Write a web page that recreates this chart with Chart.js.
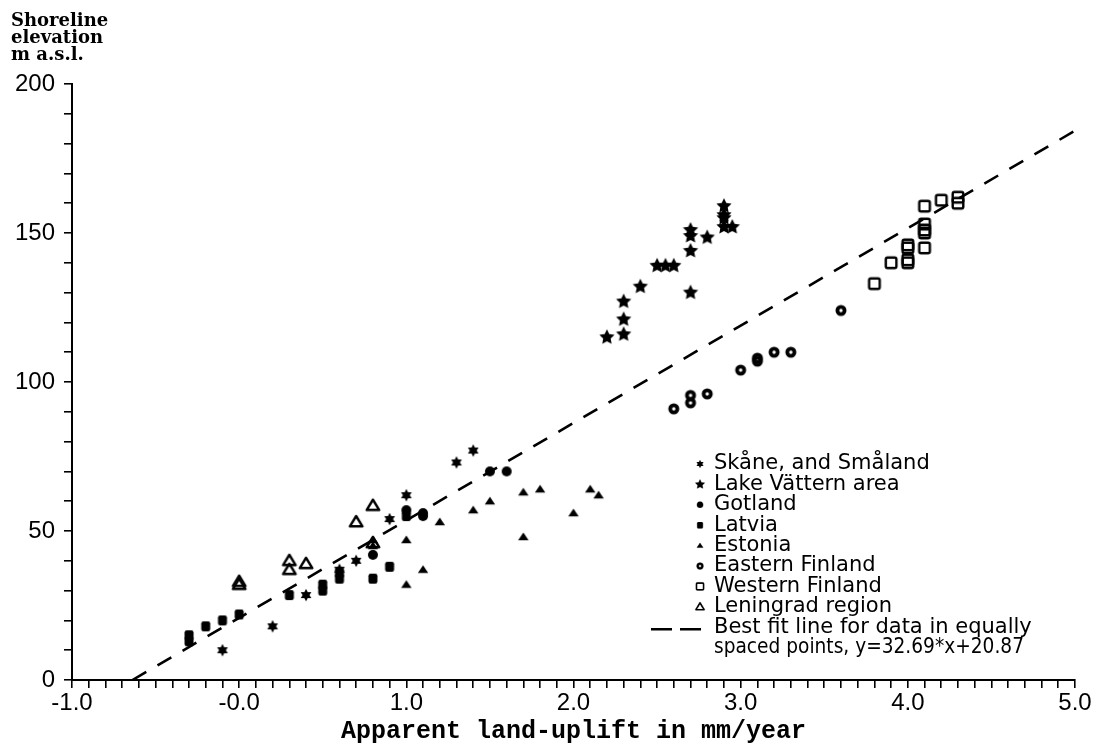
<!DOCTYPE html>
<html>
<head>
<meta charset="utf-8">
<script src="https://cdn.jsdelivr.net/npm/chart.js@4/dist/chart.umd.min.js"></script>
<style>
html,body{margin:0;padding:0;background:#fff;}
#wrap{width:1099px;height:747px;position:relative;}
</style>
</head>
<body>
<div id="wrap"><canvas id="c" width="1099" height="747"></canvas></div>
<script>
// ---- Data ----
const skaneX = [-0.1, 0.2, 0.4, 0.6, 0.7, 0.9, 1.0, 1.3, 1.4];
const skaneY = [10, 18, 28.5, 37, 40, 54, 62, 73, 77];

const vatternX = [2.2, 2.3, 2.3, 2.3, 2.4, 2.5, 2.55, 2.6, 2.7, 2.7, 2.7, 2.7, 2.8, 2.9, 2.9, 2.9, 2.9, 2.95];
const vatternY = [115, 116, 121, 127, 132, 139, 139, 139, 130, 144, 149, 151, 148.5, 159, 156, 155, 152, 152];

const gotlandX = [0.8, 1.0, 1.1, 1.1, 1.5, 1.6];
const gotlandY = [42, 57, 56, 55, 70, 70];

const latviaX = [-0.3, -0.3, -0.2, -0.1, 0.0, 0.3, 0.5, 0.5, 0.6, 0.6, 0.8, 0.9, 1.0];
const latviaY = [15, 13, 18, 20, 22, 28.5, 30, 32, 34, 36, 34, 38, 55];

const estoniaX = [0.8, 0.8, 1.0, 1.0, 1.1, 1.2, 1.4, 1.5, 1.7, 1.7, 1.8, 2.0, 2.1, 2.15];
const estoniaY = [47, 45, 47, 32, 37, 53, 57, 60, 63, 48, 64, 56, 64, 62];

const eastFinX = [2.6, 2.7, 2.7, 2.8, 3.0, 3.1, 3.1, 3.2, 3.3, 3.6];
const eastFinY = [91, 95.5, 93, 96, 104, 108, 107, 110, 110, 124];

const westFinX = [3.8, 3.9, 4.0, 4.0, 4.0, 4.0, 4.1, 4.1, 4.1, 4.1, 4.1, 4.2, 4.3, 4.3];
const westFinY = [133, 140, 146, 145, 141, 140, 145, 153, 151, 150, 159, 161, 162, 160];

const leningradX = [0.0, 0.0, 0.3, 0.3, 0.4, 0.7, 0.8, 0.8];
const leningradY = [33, 32, 40, 37, 39, 53, 58.5, 46];

// Best-fit line as printed in the legend: y = 32.69*x + 20.87
const fitSlope = 32.69;
const fitIntercept = 20.87;
const fitX = [-fitIntercept / fitSlope, 5.0];

const seriesLabels = [
  "Skåne, and Småland", "Lake Vättern area", "Gotland", "Latvia", "Estonia",
  "Eastern Finland", "Western Finland", "Leningrad region"
];
const fitLabel = ["Best fit line for data in equally", "spaced points, y=32.69*x+20.87"];

const xTickLabels = ["-1.0", "-0.0", "1.0", "2.0", "3.0", "4.0", "5.0"];
const yTickLabels = ["0", "50", "100", "150", "200"];
const yTitleLines = ["Shoreline", "elevation", "m a.s.l."];
const xTitle = "Apparent land-uplift in mm/year";

// ---- Marker images ----
function mk(size, draw) {
  const c = document.createElement('canvas');
  c.width = size; c.height = size;
  const g = c.getContext('2d');
  g.fillStyle = '#000'; g.strokeStyle = '#000';
  draw(g, size / 2);
  return c;
}
function starPath(g, cx, n, R, r, rot) {
  g.beginPath();
  for (let i = 0; i < 2 * n; i++) {
    const a = rot + i * Math.PI / n;
    const rad = i % 2 === 0 ? R : r;
    const px = cx + rad * Math.cos(a), py = cx + rad * Math.sin(a);
    if (i === 0) g.moveTo(px, py); else g.lineTo(px, py);
  }
  g.closePath();
}
const mSkane = mk(16, (g, c) => { starPath(g, c, 6, 6.2, 3.4, -Math.PI / 2); g.fill(); });
const mVattern = mk(20, (g, c) => { starPath(g, c, 5, 8, 3.9, -Math.PI / 2); g.fill(); });
const mGotland = mk(14, (g, c) => { g.beginPath(); g.arc(c, c, 5, 0, 2 * Math.PI); g.fill(); });
const mLatvia = mk(14, (g, c) => { g.beginPath(); g.roundRect(c - 4.5, c - 5, 9, 10, 2.2); g.fill(); });
const mEstonia = mk(14, (g, c) => { g.beginPath(); g.moveTo(c, c - 4.5); g.lineTo(c + 5.2, c + 3.3); g.lineTo(c - 5.2, c + 3.3); g.closePath(); g.fill(); });
const mEast = mk(16, (g, c) => { g.lineWidth = 3.8; g.beginPath(); g.arc(c, c, 3.6, 0, 2 * Math.PI); g.stroke(); });
const mWest = mk(18, (g, c) => { g.lineWidth = 2.4; g.beginPath(); g.roundRect(c - 5.3, c - 5.3, 10.6, 10.6, 1.8); g.stroke(); });
const mLenin = mk(18, (g, c) => { g.lineWidth = 2.4; g.lineJoin = 'round'; g.beginPath(); g.moveTo(c, c - 6); g.lineTo(c + 6.3, c + 4.3); g.lineTo(c - 6.3, c + 4.3); g.closePath(); g.stroke(); });

const markers = [mSkane, mVattern, mGotland, mLatvia, mEstonia, mEast, mWest, mLenin];
const xsAll = [skaneX, vatternX, gotlandX, latviaX, estoniaX, eastFinX, westFinX, leningradX];
const ysAll = [skaneY, vatternY, gotlandY, latviaY, estoniaY, eastFinY, westFinY, leningradY];

const datasets = xsAll.map((xs, i) => ({
  type: 'scatter',
  label: seriesLabels[i],
  data: xs.map((x, j) => ({ x: x, y: ysAll[i][j] })),
  pointStyle: markers[i],
  pointRadius: 5,
  showLine: false
}));
datasets.push({
  type: 'line',
  label: fitLabel.join(' '),
  data: fitX.map(x => ({ x: x, y: fitSlope * x + fitIntercept })),
  borderColor: '#000',
  borderWidth: 2.6,
  borderDash: [16, 13],
  pointRadius: 0,
  fill: false,
  tension: 0
});

// draw text squeezed horizontally to a target width (if given)
function fitText(ctx, text, x, y, targetW) {
  const w = ctx.measureText(text).width;
  if (!targetW || w <= targetW) { ctx.fillText(text, x, y); return; }
  ctx.save();
  ctx.translate(x, y);
  ctx.scale(targetW / w, 1);
  ctx.fillText(text, 0, 0);
  ctx.restore();
}

// ---- Custom legend and y-title ----
const decor = {
  id: 'decor',
  afterDraw(chart) {
    const ctx = chart.ctx;
    ctx.save();
    ctx.fillStyle = '#000';
    // y-axis title (horizontal, top-left)
    ctx.font = 'bold 18px "DejaVu Serif"';
    ctx.textBaseline = 'alphabetic';
    ctx.textAlign = 'left';
    const base = [26, 43, 60];
    yTitleLines.forEach((t, i) => fitText(ctx, t, 11, base[i], 99));
    // legend
    const symX = 700, txtX = 714, y0 = 464, dy = 20.4;
    ctx.font = '21px "DejaVu Sans"';
    ctx.textBaseline = 'middle';
    seriesLabels.forEach((lab, i) => {
      const y = y0 + i * dy;
      const m = markers[i];
      const s = m.width * 0.66;
      ctx.drawImage(m, symX - s / 2, y - s / 2, s, s);
      fitText(ctx, lab, txtX, y, 225);
    });
    const yf = y0 + 8 * dy;
    fitText(ctx, fitLabel[0], txtX, yf, 320);
    fitText(ctx, fitLabel[1], txtX, yf + dy, 310);
    ctx.strokeStyle = '#000';
    ctx.lineWidth = 2.4;
    ctx.beginPath();
    ctx.moveTo(651, yf + 2); ctx.lineTo(672, yf + 2);
    ctx.moveTo(680, yf + 2); ctx.lineTo(701, yf + 2);
    ctx.stroke();
    ctx.restore();
  }
};

new Chart(document.getElementById('c'), {
  type: 'scatter',
  data: { datasets: datasets },
  options: {
    responsive: false,
    animation: false,
    devicePixelRatio: 1,
    layout: { padding: { left: 0, top: 84, right: 24, bottom: 0 } },
    plugins: { legend: { display: false }, tooltip: { enabled: false } },
    scales: {
      x: {
        type: 'linear',
        min: -1, max: 5,
        afterFit(s) { s.height = 67; },
        border: { display: true, color: '#000', width: 2 },
        grid: { drawOnChartArea: false, drawTicks: true, tickLength: 8, color: '#000', lineWidth: 1.6 },
        ticks: {
          stepSize: 0.1,
          autoSkip: false,
          maxRotation: 0,
          padding: 1,
          color: '#000',
          font: { family: 'Liberation Sans', size: 24 },
          callback: (v, i) => (i % 10 === 0 ? xTickLabels[i / 10] : '')
        },
        title: {
          display: true,
          text: xTitle,
          color: '#000',
          font: { family: 'Liberation Mono', size: 25, weight: 'bold' },
          padding: { top: 0, bottom: 0 }
        }
      },
      y: {
        type: 'linear',
        min: 0, max: 200,
        afterFit(s) { s.width = 72; },
        border: { display: true, color: '#000', width: 2 },
        grid: { drawOnChartArea: false, drawTicks: true, tickLength: 8, color: '#000', lineWidth: 1.6 },
        ticks: {
          stepSize: 10,
          autoSkip: false,
          padding: 9,
          color: '#000',
          font: { family: 'Liberation Sans', size: 24 },
          callback: (v) => (v % 50 === 0 ? yTickLabels[v / 50] : '')
        }
      }
    }
  },
  plugins: [decor]
});
</script>
</body>
</html>
